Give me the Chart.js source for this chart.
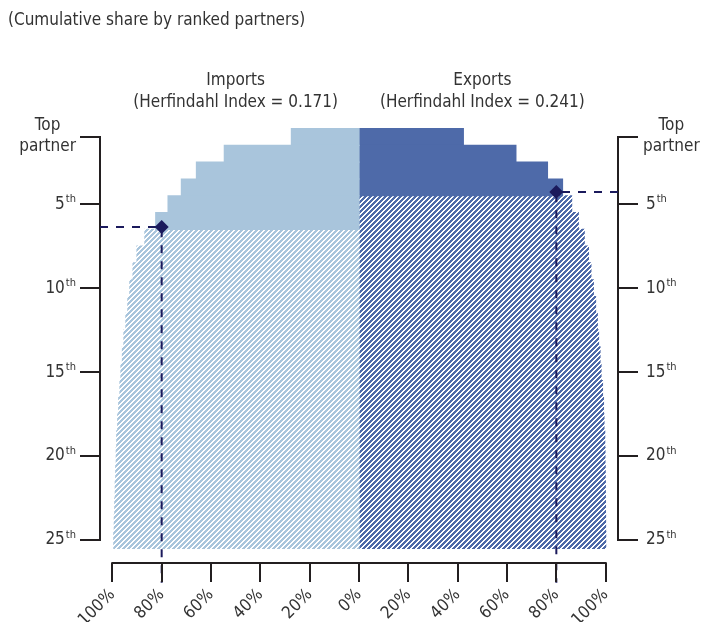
<!DOCTYPE html>
<html>
<head>
<meta charset="utf-8">
<script src="https://cdn.jsdelivr.net/npm/chart.js@4.4.0/dist/chart.umd.min.js"></script>
<style>
  html, body { margin: 0; padding: 0; background: #fff; }
</style>
</head>
<body>
<canvas id="myChart" width="701" height="622"></canvas>
<script>
// data
const ranks = [1, 2, 3, 4, 5, 6, 7, 8, 9, 10, 11, 12, 13, 14, 15, 16, 17, 18, 19, 20, 21, 22, 23, 24, 25];
const importsShare = [27.4, 54.6, 65.9, 72.0, 77.4, 82.4, 86.8, 90.0, 91.6, 92.9, 93.7, 94.5, 95.3,
  95.9, 96.5, 96.9, 97.4, 97.8, 98.2, 98.4, 98.6, 98.8, 99.0, 99.2, 99.4];
const exportsShare = [42.3, 63.6, 76.4, 82.5, 86.2, 88.9, 91.3, 93.0, 94.0, 95.0, 95.9, 96.6, 97.1,
  97.7, 98.1, 98.7, 99.1, 99.3, 99.6, 99.7, 99.8, 99.85, 99.9, 99.95, 100];
const importsTop = 6;   // partners shown solid
const exportsTop = 4;
const importsMark = { share: 80, rank: 6.36 };
const exportsMark = { share: 80, rank: 4.27 };
const herfindahl = { imports: '0.171', exports: '0.241' };
const xTicks = [-100, -80, -60, -40, -20, 0, 20, 40, 60, 80, 100];
const yTicks = [1, 5, 10, 15, 20, 25];

const FONT = "'DejaVu Sans Condensed', 'DejaVu Sans', sans-serif";
const TEXT = '#333333';
const AXIS = '#231f20';
const NAVY = '#1b1a5c';
const IMP = '#a9c5dc';
const EXP = '#4e6aa9';

const canvas = document.getElementById('myChart');
const ctx0 = canvas.getContext('2d');

// diagonal "/" stripes, pixel-crisp so overlapping rows leave no seams
function hatch(color) {
  const c = document.createElement('canvas');
  c.width = 5; c.height = 5;
  const g = c.getContext('2d');
  g.fillStyle = color;
  for (let y = 0; y < 5; y++)
    for (let x = 0; x < 5; x++)
      if ((x + y) % 5 < 3) g.fillRect(x, y, 1, 1);
  return ctx0.createPattern(c, 'repeat');
}

const bar = (side, from, to, color) => ({
  type: 'bar',
  data: ranks.slice(from, to).map((r, i) => ({ x: side * (side < 0 ? importsShare : exportsShare)[from + i], y: r })),
  backgroundColor: color,
  borderWidth: 0,
  inflateAmount: 0.6,
  grouped: false,
  barPercentage: 1,
  categoryPercentage: 1,
  clip: false,
  order: 2
});

const marker = (side, m, xEdge) => ({
  type: 'line',
  data: [
    { x: xEdge, y: m.rank },
    { x: side * m.share, y: m.rank },
    { x: side * m.share, y: 27.55 }
  ],
  borderColor: NAVY,
  borderWidth: 2,
  borderDash: [8, 8],
  pointRadius: [0, 7, 0],
  pointStyle: 'rectRot',
  pointBackgroundColor: NAVY,
  pointBorderWidth: 0,
  clip: false,
  order: 0
});

// custom drawing: titles, y labels with superscripts, offset x axis line
const decor = {
  id: 'decor',
  afterDraw(chart) {
    const { ctx, chartArea, scales } = chart;
    const x = scales.x, y = scales.y;
    ctx.save();
    ctx.fillStyle = TEXT;
    ctx.font = '17px ' + FONT;
    ctx.textBaseline = 'middle';
    ctx.textAlign = 'left';
    ctx.fillText('(Cumulative share by ranked partners)', 8, 21);

    ctx.textAlign = 'center';
    [[-50, 'Imports', herfindahl.imports], [50, 'Exports', herfindahl.exports]].forEach(([v, name, h]) => {
      const px = x.getPixelForValue(v);
      ctx.fillText(name, px, 81);
      ctx.fillText('(Herfindahl Index = ' + h + ')', px, 103);
    });

    // y labels
    const leftEdge = chartArea.left - 24;
    const rightEdge = chartArea.right + 25;
    yTicks.forEach(t => {
      const py = y.getPixelForValue(t);
      if (t === 1) {
        ctx.font = '17px ' + FONT;
        const w = ctx.measureText('partner').width;
        ctx.textAlign = 'center';
        [[leftEdge - w / 2], [rightEdge + w / 2]].forEach(([cx]) => {
          ctx.fillText('Top', cx, py - 11);
          ctx.fillText('partner', cx, py + 10);
        });
        return;
      }
      ctx.font = '17px ' + FONT;
      const num = String(t);
      const wn = ctx.measureText(num).width;
      ctx.font = '11px ' + FONT;
      const ws = ctx.measureText('th').width;
      ctx.textAlign = 'left';
      [[leftEdge - wn - ws - 1], [rightEdge + 3]].forEach(([sx]) => {
        ctx.font = '17px ' + FONT;
        ctx.fillText(num, sx, py);
        ctx.font = '11px ' + FONT;
        ctx.fillText('th', sx + wn + 1, py - 5);
      });
    });

    // x axis line and ticks
    const ay = chartArea.bottom + 23;
    ctx.strokeStyle = AXIS;
    ctx.lineWidth = 2;
    ctx.beginPath();
    ctx.moveTo(x.getPixelForValue(xTicks[0]) - 1, ay);
    ctx.lineTo(x.getPixelForValue(xTicks[xTicks.length - 1]) + 1, ay);
    xTicks.forEach(t => {
      const px = Math.round(x.getPixelForValue(t));
      ctx.moveTo(px, ay);
      ctx.lineTo(px, ay + 19);
    });
    ctx.stroke();
    ctx.restore();
  }
};

const yAxis = (position, width) => ({
  type: 'linear',
  position,
  reverse: true,
  min: 1,
  max: 25,
  offset: false,
  afterBuildTicks: s => { s.ticks = yTicks.map(v => ({ value: v })); },
  afterFit: s => { s.width = width; },
  ticks: { display: false },
  grid: { drawOnChartArea: false, offset: false, tickLength: 20, color: AXIS, lineWidth: 2 },
  border: { color: AXIS, width: 2 }
});

const config = {
  type: 'bar',
  data: {
    datasets: [
      marker(-1, importsMark, -105),
      marker(1, exportsMark, 105),
      bar(-1, 0, importsTop, IMP),
      bar(-1, importsTop, ranks.length, hatch(IMP)),
      bar(1, 0, exportsTop, EXP),
      bar(1, exportsTop, ranks.length, hatch(EXP))
    ]
  },
  options: {
    indexAxis: 'y',
    responsive: false,
    animation: false,
    layout: { padding: { top: 137, left: 0, right: 0, bottom: 0 } },
    plugins: { legend: { display: false }, tooltip: { enabled: false }, title: { display: false } },
    scales: {
      x: {
        type: 'linear',
        min: -105,
        max: 105,
        afterBuildTicks: s => { s.ticks = xTicks.map(v => ({ value: v })); },
        afterFit: s => { s.height = 82; },
        grid: { display: false, drawTicks: false },
        border: { display: false },
        ticks: {
          autoSkip: false,
          minRotation: 45,
          maxRotation: 45,
          padding: 45,
          color: TEXT,
          font: { family: FONT, size: 17 },
          callback: v => Math.abs(v) + '%'
        }
      },
      y: yAxis('left', 100),
      y2: yAxis('right', 83)
    }
  },
  plugins: [decor]
};

const myChart = new Chart(canvas, config);
</script>
</body>
</html>
